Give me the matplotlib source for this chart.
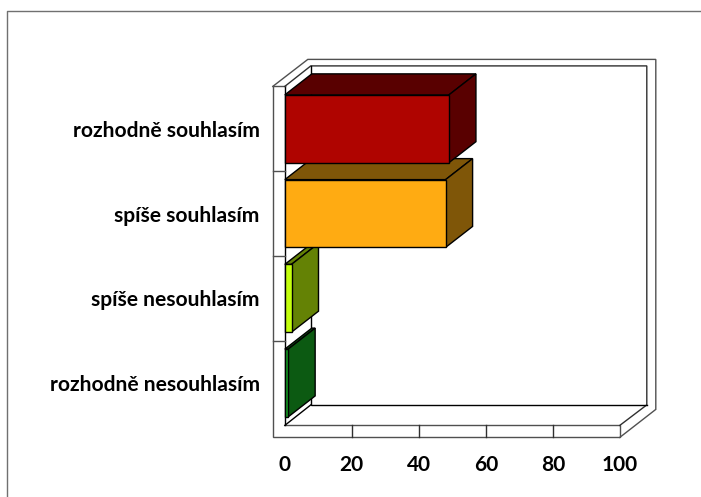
import matplotlib
matplotlib.use("Agg")
import matplotlib.pyplot as plt
from matplotlib.patches import Polygon

categories = ['rozhodně souhlasím', 'spíše souhlasím', 'spíše nesouhlasím', 'rozhodně nesouhlasím']
values = [49, 48, 2, 1]
front_colors = ['#AF0400', '#FFAB12', '#C4FF0E', '#149C24']
side_colors = ['#590000', '#7F5608', '#648205', '#0C5A12']
x_ticks = [0, 20, 40, 60, 80, 100]

W, H = 701, 497
PX_X = 335 / 100     # pixels per x unit
PX_Y = 339 / 4       # pixels per category band

# depth of the fake 3d box, in data units
DX, DY = 27 / PX_X, 21 / PX_Y
BACK_X, BACK_Y = 26 / PX_X, 20.5 / PX_Y
OUT_X, OUT_Y = 12 / PX_X, 12 / PX_Y
BAR_H = 0.8

plt.rcParams['font.family'] = ['Lato', 'DejaVu Sans']

fig = plt.figure(figsize=(W / 100, H / 100), dpi=100)

# page border, only top and left show
fig.add_artist(plt.Line2D([7 / W, 7 / W, 1], [0, 1 - 11 / H, 1 - 11 / H], color='#707070', lw=1))

ax = fig.add_axes([284.8 / W, 1 - 425.4 / H, 335 / W, 339 / H])
ax.set_xlim(0, 100)
ax.set_ylim(3.5, -0.5)
for s in ax.spines.values():
    s.set_visible(False)


def line(xs, ys, color='#505050', lw=1.0, z=1):
    ax.plot(xs, ys, color=color, lw=lw, zorder=z, clip_on=False, solid_joinstyle='miter')


top, bot = -0.5, 3.5
bx, by = BACK_X, BACK_Y
ox, oy = OUT_X, OUT_Y

# walls and floor
line([-ox, -ox, 100, 100, 0], [top, bot + oy, bot + oy, bot, bot])
line([0, 0], [top, bot], color='black')
line([-ox, 0], [top, top])
line([-ox, -ox + 35 / PX_X, 100 + 36 / PX_X, 100 + 36 / PX_X, 100],
     [top, top - 27 / PX_Y, top - 27 / PX_Y, bot - 16 / PX_Y, bot + oy])
line([0, bx, 100 + 27 / PX_X, 100 + 27 / PX_X, 100],
     [top, top - by, top - by, bot - by, bot], color='#303030')
line([bx, bx, 100 + 27 / PX_X], [top - by, bot - by, bot - by], color='black')
line([0, bx], [bot, bot - by], color='black')
for t in x_ticks[1:-1]:
    line([t, t], [bot, bot + oy], color='#303030')
for i in range(1, 4):
    line([-ox, 0], [i - 0.5, i - 0.5])

# bars, bottom one first so the upper ones sit in front
for i in reversed(range(len(values))):
    v = values[i]
    y0, y1 = i - BAR_H / 2, i + BAR_H / 2
    style = dict(edgecolor='black', lw=1.0, clip_on=False, joinstyle='miter', zorder=3 + (3 - i))
    ax.add_patch(Polygon([(0, y0), (DX, y0 - DY), (v + DX, y0 - DY), (v, y0)], facecolor=side_colors[i], **style))
    ax.add_patch(Polygon([(v, y0), (v + DX, y0 - DY), (v + DX, y1 - DY), (v, y1)], facecolor=side_colors[i], **style))
    ax.add_patch(Polygon([(0, y0), (v, y0), (v, y1), (0, y1)], facecolor=front_colors[i], **style))

ax.set_xticks(x_ticks)
ax.set_yticks(range(len(categories)))
ax.set_yticklabels(categories, fontweight='bold', fontsize=15.1)
ax.set_xticklabels(x_ticks, fontweight='bold', fontsize=15)
ax.tick_params(axis='y', length=0, pad=18)
ax.tick_params(axis='x', length=0, pad=21)

fig.savefig('out.png', dpi=100)
